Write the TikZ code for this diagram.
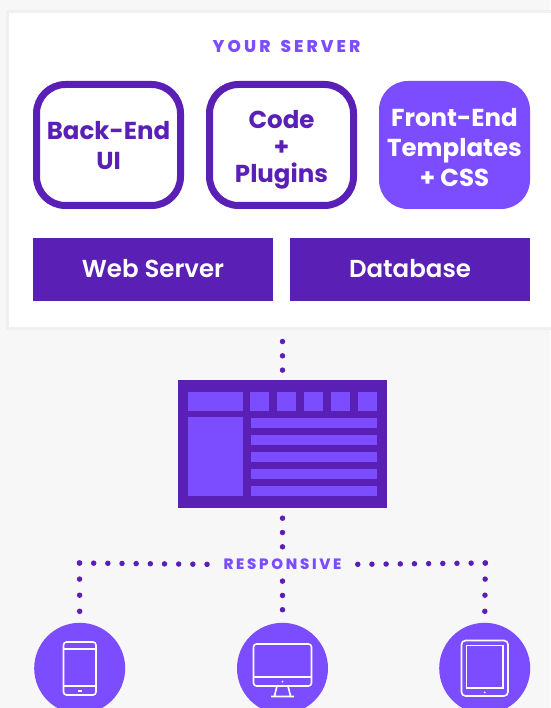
\documentclass[tikz,border=0pt]{standalone}
\usepackage{fontspec}
\setmainfont{Poppins}
\newfontfamily\semifont{Poppins SemiBold}
\newfontfamily\tagfont[LetterSpace=18,WordSpace=1.6]{Poppins ExtraBold}
\newcommand{\dropline}[1]{\rule{0pt}{#1}}
\usetikzlibrary{positioning}
\definecolor{deep}{HTML}{5A20B6}
\definecolor{bright}{HTML}{7C4DFF}
\definecolor{paper}{HTML}{F7F7F7}
\definecolor{rim}{HTML}{F0F0F0}
\tikzset{
	card/.style = {rounded corners=29pt,minimum width=144pt,minimum height=121pt,align=center,font=\fontsize{24.5}{30}\selectfont\bfseries,inner sep=0pt},
	outlined/.style = {card,draw=deep,line width=7pt,text=deep,fill=white},
	solid card/.style = {card,fill=bright,text=white,minimum width=151pt,minimum height=128pt},
	bar/.style = {fill=deep,text=white,minimum width=240pt,minimum height=63pt,inner sep=0pt,text depth=3pt,font=\fontsize{24.5}{30}\semifont},
	round/.style = {circle,fill=bright,minimum size=91pt,inner sep=0pt},
	dots/.style = {draw=deep,line width=5.5pt,line cap=round,dash pattern=on 0pt off #1},
	dots/.default = 14.3pt,
	tag/.style = {text=bright,inner sep=0pt},
	glyph/.style = {draw=white,line width=1.6pt},
	pane/.style = {fill=bright}
}
\begin{document}
\begin{tikzpicture}[x=1pt,y=-1pt]
	\useasboundingbox (0,0) rectangle (550,708);
	\fill[paper] (0,0) rectangle (550,708);
	\filldraw[fill=white,draw=rim,line width=3.5pt] (7.5,11.5) rectangle (560,328.5);
	\node[tag,font=\fontsize{17}{18}\tagfont] (yourserver) at (286.5,46) {YOUR SERVER};
	\node[outlined] (backend) at (108.5,145) {\dropline{20pt}Back-End\\UI};
	\node[outlined,font=\fontsize{24.5}{27}\selectfont\bfseries] (code) at (281.5,145) {\dropline{27pt}Code\\+\\Plugins};
	\node[solid card] (frontend) at (454.5,145) {\dropline{23pt}Front-End\\Templates\\+ CSS};
	\node[bar] (webserver) at (153,269.5) {Web Server};
	\node[bar] (database) at (410,269.5) {Database};
	% page layout
	\node[fill=deep,minimum width=209pt,minimum height=128pt,inner sep=0pt] (screen) at (282.5,444) {};
	\fill[pane] (188,392) rectangle (243,411);
	\foreach \x in {250,277,304,331,358}
	\fill[pane] (\x,392) rectangle (\x+19,411);
	\fill[pane] (188,417) rectangle (243,496);
	\foreach \y in {418,435,452,469,486}
	\fill[pane] (251,\y) rectangle (377,\y+10);
	% devices
	\node[tag,font=\fontsize{15}{16}\tagfont] (responsive) at (282.5,564.5) {RESPONSIVE};
	\node[round] (phone) at (79.7,668.3) {};
	\node[round] (desktop) at (282.5,668.3) {};
	\node[round] (tablet) at (484.7,668.3) {};
	\coordinate (leftcorner) at (79.5,563);
	\coordinate (rightcorner) at (485.3,563);
	\coordinate (serverdot) at (282.5,341.5);
	\draw[dots,shorten >=6pt] (serverdot) -- (screen.north);
	\draw[dots,shorten <=10pt] (screen.south) -- (responsive.north);
	\draw[dots,shorten <=11pt] (responsive.south) -- (desktop.north);
	\draw[dots=14.17pt,shorten >=5pt] (leftcorner) -- (responsive.west);
	\draw[dots=14.17pt,shorten >=5pt] (rightcorner) -- (responsive.east);
	\draw[dots=16.1pt] (leftcorner) -- (phone.north);
	\draw[dots=16.1pt] (rightcorner) -- (tablet.north);
	\draw[glyph,rounded corners=3pt] (63.5,642) rectangle (96,695);
	\draw[glyph] (63.5,649) -- (96,649);
	\draw[glyph] (63.5,686) -- (96,686);
	\fill[white] (77.5,690) rectangle (82,692);
	\draw[glyph,rounded corners=3pt] (253.5,644) rectangle (311.5,686);
	\draw[glyph] (253.5,677) -- (311.5,677);
	\fill[white] (282.5,681.5) circle (1pt);
	\draw[glyph] (277,686) -- (274.5,696) (288,686) -- (290.5,696) (271,696.5) -- (294,696.5);
	\draw[glyph,rounded corners=4pt] (461.5,640.5) rectangle (508,696);
	\draw[glyph] (466.5,645.5) rectangle (503,688);
	\fill[white] (484.7,692.3) circle (1pt);
\end{tikzpicture}
\end{document}
